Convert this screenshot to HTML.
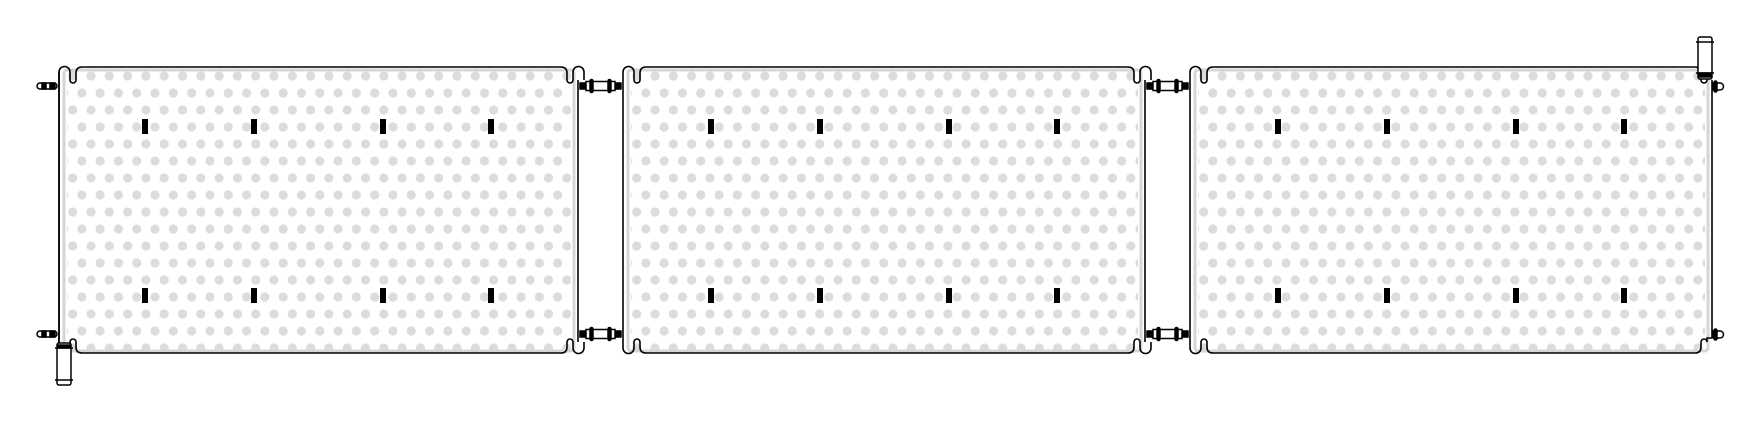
<!DOCTYPE html>
<html><head><style>html,body{margin:0;padding:0;background:#fff}svg{display:block}</style></head>
<body>
<svg width="1754" height="447" viewBox="0 0 1754 447" xmlns="http://www.w3.org/2000/svg">
<defs>
<pattern id="d1" patternUnits="userSpaceOnUse" x="91" y="76" width="18.3" height="34"><circle cx="0" cy="0" r="4.6" fill="#dcdcdc"/><circle cx="18.3" cy="0" r="4.6" fill="#dcdcdc"/><circle cx="9.15" cy="17" r="4.6" fill="#dcdcdc"/><circle cx="0" cy="34" r="4.6" fill="#dcdcdc"/><circle cx="18.3" cy="34" r="4.6" fill="#dcdcdc"/></pattern>
<pattern id="d2" patternUnits="userSpaceOnUse" x="655" y="76" width="18.3" height="34"><circle cx="0" cy="0" r="4.6" fill="#dcdcdc"/><circle cx="18.3" cy="0" r="4.6" fill="#dcdcdc"/><circle cx="9.15" cy="17" r="4.6" fill="#dcdcdc"/><circle cx="0" cy="34" r="4.6" fill="#dcdcdc"/><circle cx="18.3" cy="34" r="4.6" fill="#dcdcdc"/></pattern>
<pattern id="d3" patternUnits="userSpaceOnUse" x="1222" y="76" width="18.3" height="34"><circle cx="0" cy="0" r="4.6" fill="#dcdcdc"/><circle cx="18.3" cy="0" r="4.6" fill="#dcdcdc"/><circle cx="9.15" cy="17" r="4.6" fill="#dcdcdc"/><circle cx="0" cy="34" r="4.6" fill="#dcdcdc"/><circle cx="18.3" cy="34" r="4.6" fill="#dcdcdc"/></pattern>
<g id="half" fill="none" stroke="#000" stroke-width="1.5">
</g>
</defs>

<!-- dots -->
<rect x="67" y="70" width="504" height="283" fill="url(#d1)"/>
<rect x="631" y="70" width="507" height="283" fill="url(#d2)"/>
<rect x="1198" y="70" width="507" height="283" fill="url(#d3)"/>

<!-- inner gray borders -->
<g fill="none" stroke="#d6d6d6" stroke-width="3">
<rect x="64" y="70" width="510" height="281" rx="3"/>
<rect x="628" y="70" width="513" height="281" rx="3"/>
<rect x="1195" y="70" width="513" height="281" rx="3"/>
</g>

<!-- frames -->
<g fill="none" stroke="#000" stroke-width="1.6">
<path d="M59,345 V72 a5.5,5.5 0 0 1 11,0 V80 a3,3 0 0 0 6,0 V73 q0,-6 6,-6 H561 q6,0 6,6 V80 a3,3 0 0 0 6,0 V72 a5.5,5.5 0 0 1 11,0 V80"/>
<path d="M59,345 V72 M59,348 a5.5,5.5 0 0 0 11,0 V342 a3,3 0 0 1 6,0 V347 q0,6 6,6 H561 q6,0 6,-6 V342 a3,3 0 0 1 6,0 V348 a5.5,5.5 0 0 0 11,0 V342" transform="translate(0,0)"/>
<line x1="578" y1="80" x2="578" y2="342"/>
<path d="M623,80 V72 a5.5,5.5 0 0 1 11,0 V80 a3,3 0 0 0 6,0 V73 q0,-6 6,-6 H1128 q6,0 6,6 V80 a3,3 0 0 0 6,0 V72 a5.5,5.5 0 0 1 11,0 V80"/>
<path d="M623,342 V348 a5.5,5.5 0 0 0 11,0 V342 a3,3 0 0 1 6,0 V347 q0,6 6,6 H1128 q6,0 6,-6 V342 a3,3 0 0 1 6,0 V348 a5.5,5.5 0 0 0 11,0 V342"/>
<line x1="623" y1="80" x2="623" y2="342"/>
<line x1="1145" y1="80" x2="1145" y2="342"/>
<path d="M1190,80 V72 a5.5,5.5 0 0 1 11,0 V80 a3,3 0 0 0 6,0 V73 q0,-6 6,-6 H1695 q6,0 6,6 V80 a3,3 0 0 0 6,0 V72"/>
<path d="M1190,342 V348 a5.5,5.5 0 0 0 11,0 V342 a3,3 0 0 1 6,0 V347 q0,6 6,6 H1695 q6,0 6,-6 V342 a3,3 0 0 1 6,0 V338 H1712"/>
<line x1="1190" y1="80" x2="1190" y2="342"/>
<line x1="1712" y1="80" x2="1712" y2="338"/>
</g>

<!-- marks -->
<g fill="#000">
<rect x="142" y="119" width="6" height="15"/><rect x="251" y="119" width="6" height="15"/><rect x="380" y="119" width="6" height="15"/><rect x="488" y="119" width="6" height="15"/>
<rect x="142" y="288" width="6" height="15"/><rect x="251" y="288" width="6" height="15"/><rect x="380" y="288" width="6" height="15"/><rect x="488" y="288" width="6" height="15"/>
<rect x="708" y="119" width="6" height="15"/><rect x="817" y="119" width="6" height="15"/><rect x="946" y="119" width="6" height="15"/><rect x="1054" y="119" width="6" height="15"/>
<rect x="708" y="288" width="6" height="15"/><rect x="817" y="288" width="6" height="15"/><rect x="946" y="288" width="6" height="15"/><rect x="1054" y="288" width="6" height="15"/>
<rect x="1275" y="119" width="6" height="15"/><rect x="1384" y="119" width="6" height="15"/><rect x="1513" y="119" width="6" height="15"/><rect x="1621" y="119" width="6" height="15"/>
<rect x="1275" y="288" width="6" height="15"/><rect x="1384" y="288" width="6" height="15"/><rect x="1513" y="288" width="6" height="15"/><rect x="1621" y="288" width="6" height="15"/>
</g>

<!-- connectors between panels -->
<g id="c" stroke="#000" stroke-width="1.5">
<rect x="580" y="83" width="6" height="6" fill="#000"/>
<rect x="615" y="83" width="6" height="6" fill="#000"/>
<rect x="586" y="81.5" width="29" height="9" fill="#fff"/>
<rect x="590" y="79.5" width="3" height="13" rx="1.5" fill="#000"/>
<rect x="608" y="79.5" width="3" height="13" rx="1.5" fill="#000"/>
</g>
<use href="#c" y="248"/>
<use href="#c" x="567"/>
<use href="#c" x="567" y="248"/>

<!-- left end connectors -->
<g stroke="#000" stroke-width="1.5">
<rect x="37" y="83" width="20" height="6" rx="3" fill="#fff"/>
<rect x="42" y="83" width="4" height="6" fill="#000"/><rect x="50" y="83" width="5" height="6" fill="#000"/>
<rect x="37" y="331" width="20" height="6" rx="3" fill="#fff"/>
<rect x="42" y="331" width="4" height="6" fill="#000"/><rect x="50" y="331" width="5" height="6" fill="#000"/>
<!-- right end -->
<path d="M1713,83 H1720 a3.5,3.5 0 0 1 0,7 H1713 Z" fill="#fff"/>
<rect x="1714" y="81" width="3" height="11" rx="1.5" fill="#000"/>
<path d="M1713,331 H1720 a3.5,3.5 0 0 1 0,7 H1713 Z" fill="#fff"/>
<rect x="1714" y="329" width="3" height="11" rx="1.5" fill="#000"/>
</g>

<!-- cylinders -->
<g stroke="#000" stroke-width="1.5" fill="#fff">
<rect x="57" y="343" width="14" height="42" rx="2"/>
<line x1="55" y1="348" x2="73" y2="348"/><line x1="55" y1="380" x2="73" y2="380"/>
<rect x="58" y="345" width="12" height="3" fill="#000"/>
<rect x="1698" y="37" width="14" height="42" rx="2"/>
<line x1="1696" y1="42" x2="1714" y2="42"/><line x1="1696" y1="73" x2="1714" y2="73"/>
<rect x="1699" y="73" width="12" height="4" fill="#000"/>
</g>
</svg>
</body></html>
